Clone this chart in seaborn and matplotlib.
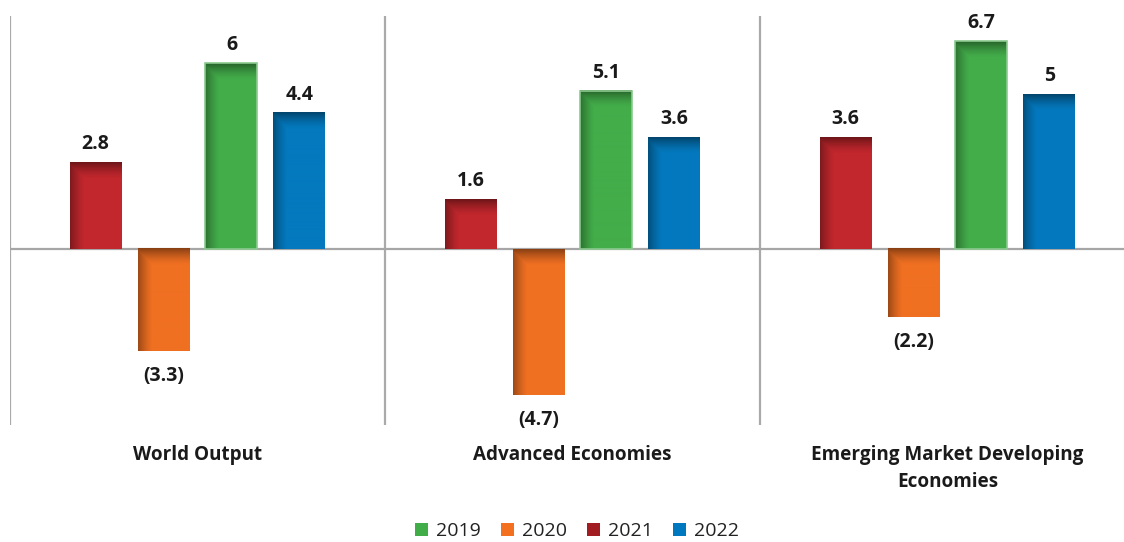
import numpy as np
import pandas as pd
import matplotlib
matplotlib.use("Agg")
import matplotlib.pyplot as plt
import matplotlib.transforms as mtransforms
from matplotlib.patches import Patch, Rectangle
import seaborn as sns

# --- data -----------------------------------------------------------------
regions = ["World Output", "Advanced Economies", "Emerging Market Developing\nEconomies"]
years = ["2019", "2020", "2021", "2022"]
growth_2019 = [6.0, 5.1, 6.7]
growth_2020 = [-3.3, -4.7, -2.2]
growth_2021 = [2.8, 1.6, 3.6]
growth_2022 = [4.4, 3.6, 5.0]
bar_order = ["2021", "2020", "2019", "2022"]

colors = {"2019": "#43AD4A", "2020": "#F07022", "2021": "#C1272D", "2022": "#0479BE"}
legend_colors = {"2019": "#40AD48", "2020": "#F37021", "2021": "#A21D22", "2022": "#0078BF"}

df = pd.DataFrame({
    "region": regions * 4,
    "year": sum([[y] * len(regions) for y in years], []),
    "growth": growth_2019 + growth_2020 + growth_2021 + growth_2022,
})

sns.set_theme(style="white")
plt.rcParams["font.family"] = ["Open Sans", "DejaVu Sans"]

W, H, DPI = 1124, 542, 100
fig = plt.figure(figsize=(W / DPI, H / DPI), dpi=DPI)
ax = fig.add_axes([10 / W, (H - 425) / H, 1125 / W, 409 / H])

sns.barplot(data=df, x="region", y="growth", hue="year", hue_order=bar_order,
            order=regions, palette=colors, width=0.725, gap=0.235,
            saturation=1, errorbar=None, legend=False, ax=ax)

ymin, ymax = -5.68, 7.52
ax.set_xlim(-0.5, 2.5)
ax.set_ylim(ymin, ymax)
for s in ax.spines.values():
    s.set_visible(False)
ax.set_xticks([])
ax.set_yticks([])
ax.set_xlabel("")
ax.set_ylabel("")

# group separators and zero line
ax.vlines([-0.5, 0.5, 1.5, 2.5], ymin, ymax, color="#AAAAAA", lw=1.6, zorder=1)
ax.axhline(0, color="#A6A6A6", lw=1.6, zorder=1)

# shaded bars: darker band at the top and along the left edge
px_per_unit = 409 / (ymax - ymin)
for bar in list(ax.patches):
    x0 = bar.get_x()
    w = bar.get_width()
    h = bar.get_height()
    if h == 0:
        continue
    base = np.array(bar.get_facecolor()[:3])
    dark = base * 0.58
    hp = max(int(round(abs(h) * px_per_unit)), 2)
    wp = 52
    ty = np.arange(hp)[:, None]
    tx = np.arange(wp)[None, :]
    f_top = np.clip(1 - ty / 16.0, 0, 1) ** 1.4
    f_left = 0.8 * np.clip(1 - tx / 14.0, 0, 1) ** 1.3
    f = np.maximum(f_top, f_left)[..., None]
    img = base * (1 - f) + dark * f
    top, bot = (h, 0) if h > 0 else (0, h)
    ax.imshow(img, extent=(x0, x0 + w, bot, top), origin="upper",
              aspect="auto", zorder=3, interpolation="bilinear")
    if bar.get_facecolor()[:3] == matplotlib.colors.to_rgb(colors["2019"]):
        ax.add_patch(Rectangle((x0, bot), w, top - bot, fill=False,
                               edgecolor="#8CC98F", lw=1.2, zorder=4))

    if h < 0:
        ax.annotate(f"({abs(h):g})", (x0 + w / 2, h), xytext=(0, -18),
                    textcoords="offset points", ha="center", va="center",
                    fontsize=14, fontweight="bold", color="#1A1A1A")
    else:
        ax.annotate(f"{h:g}", (x0 + w / 2, h), xytext=(0, 13),
                    textcoords="offset points", ha="center", va="center",
                    fontsize=14, fontweight="bold", color="#1A1A1A")

ax.set_xlim(-0.5, 2.5)
ax.set_ylim(ymin, ymax)

# category names under each group
trans = mtransforms.blended_transform_factory(ax.transData, fig.transFigure)
for i, name in enumerate(regions):
    ax.text(i, (H - 445) / H, name, transform=trans, ha="center", va="top",
            fontsize=13.6, fontweight="bold", color="#1A1A1A", linespacing=1.45)

handles = [Patch(facecolor=legend_colors[y], edgecolor="none", label=y) for y in years]
fig.legend(handles=handles, loc="center", bbox_to_anchor=(577 / W, (H - 531) / H),
           ncol=4, frameon=False, fontsize=14, handlelength=0.67, handleheight=0.67,
           handletextpad=0.4, columnspacing=1.05, labelcolor="#222222")

fig.savefig("out.png", dpi=DPI)
